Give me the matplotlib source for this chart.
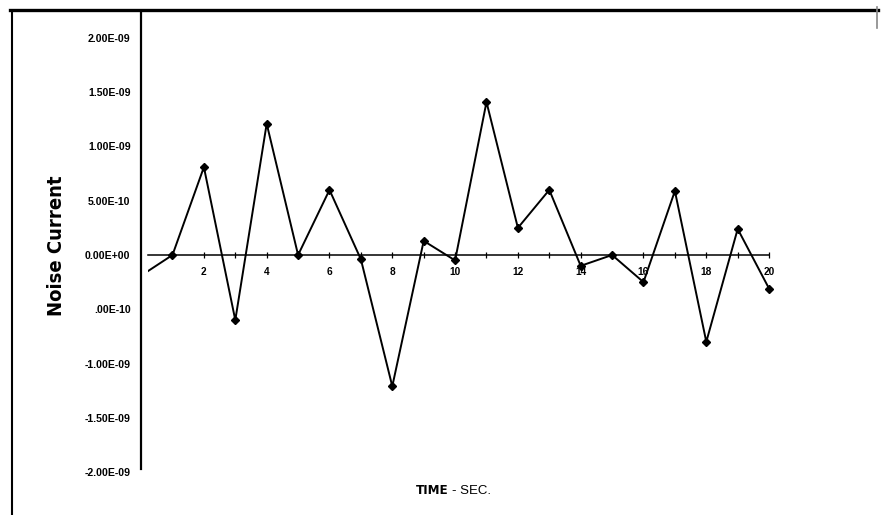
import matplotlib
matplotlib.use("Agg")
import matplotlib.pyplot as plt

# noise current samples, one per second
seconds = list(range(0, 21))
noise_current = [-0.19e-9, 0.0, 0.81e-9, -0.60e-9, 1.21e-9, 0.0, 0.60e-9, -0.04e-9,
                 -1.21e-9, 0.13e-9, -0.05e-9, 1.41e-9, 0.25e-9, 0.60e-9, -0.10e-9,
                 0.0, -0.25e-9, 0.59e-9, -0.80e-9, 0.24e-9, -0.31e-9]

y_ticks = [2.0e-9, 1.5e-9, 1.0e-9, 0.5e-9, 0.0, -0.5e-9, -1.0e-9, -1.5e-9, -2.0e-9]
y_tick_labels = ["2.00E-09", "1.50E-09", "1.00E-09", "5.00E-10", "0.00E+00",
                 ".00E-10", "-1.00E-09", "-1.50E-09", "-2.00E-09"]
x_ticks = list(range(1, 21))
x_tick_labels = [str(v) if v % 2 == 0 else "" for v in x_ticks]

W, H = 881, 515
DPI = 100
fig = plt.figure(figsize=(W / DPI, H / DPI), dpi=DPI)
plt.rcParams["font.family"] = ["Liberation Sans", "DejaVu Sans"]

# axes placed in pixel terms: 31.4 px per second, 108.5 px per 1e-9
x0_px, zero_px, sx, sy = 148, 255, 31.4, 108.5
xlo, xhi = 0.22, 22.0
ylo, yhi = -2.2e-9, 2.3e-9
top_px = zero_px - yhi * 1e9 * sy
bot_px = zero_px - ylo * 1e9 * sy
ax = fig.add_axes([x0_px / W, (H - bot_px) / H, (xhi - xlo) * sx / W, (bot_px - top_px) / H])
ax.set_xlim(xlo, xhi)
ax.set_ylim(ylo, yhi)

ax.plot(seconds, noise_current, color="black", lw=1.4, marker="D", ms=4.2,
        markerfacecolor="black", markeredgecolor="black")

for s in ["top", "right"]:
    ax.spines[s].set_visible(False)
ax.spines["bottom"].set_position(("data", 0))
ax.spines["bottom"].set_bounds(xlo, 20)
ax.spines["bottom"].set_linewidth(1.1)
ax.spines["left"].set_position(("outward", 7 * 72 / DPI))
ax.spines["left"].set_bounds(-1.97e-9, 2.24e-9)
ax.spines["left"].set_linewidth(1.6)

ax.set_yticks(y_ticks, y_tick_labels)
ax.tick_params(axis="y", length=0, pad=7.5, labelsize=7.6, labelcolor="black")
for lab in ax.get_yticklabels():
    lab.set_fontweight("bold")

ax.set_xticks(x_ticks, x_tick_labels)
ax.tick_params(axis="x", direction="inout", length=5, width=0.9, pad=6, labelsize=7.3)
for lab in ax.get_xticklabels():
    lab.set_fontweight("bold")

fig.text(57 / W, 1 - 246 / H, "Noise Current", rotation=90, ha="center", va="center",
         fontsize=14.5, fontweight="bold", fontstretch="condensed",
         family=["DejaVu Sans"])
fig.text(448 / W, 1 - 491 / H, "TIME", ha="right", va="center", fontsize=9.5,
         fontweight="bold", fontstretch="condensed", family=["DejaVu Sans"])
fig.text(452 / W, 1 - 491 / H, "- SEC.", ha="left", va="center", fontsize=9.5)

# page frame lines
fig.add_artist(plt.Line2D([10 / W, 878 / W], [1 - 9.5 / H, 1 - 9.5 / H],
                          color="black", lw=2.4, transform=fig.transFigure))
fig.add_artist(plt.Line2D([12 / W, 12 / W], [1 - 13 / H, 0],
                          color="black", lw=1.5, transform=fig.transFigure))
fig.add_artist(plt.Line2D([877 / W, 877 / W], [1 - 7 / H, 1 - 28 / H],
                          color="#888888", lw=1.2, transform=fig.transFigure))

fig.savefig("out.png", dpi=DPI)
